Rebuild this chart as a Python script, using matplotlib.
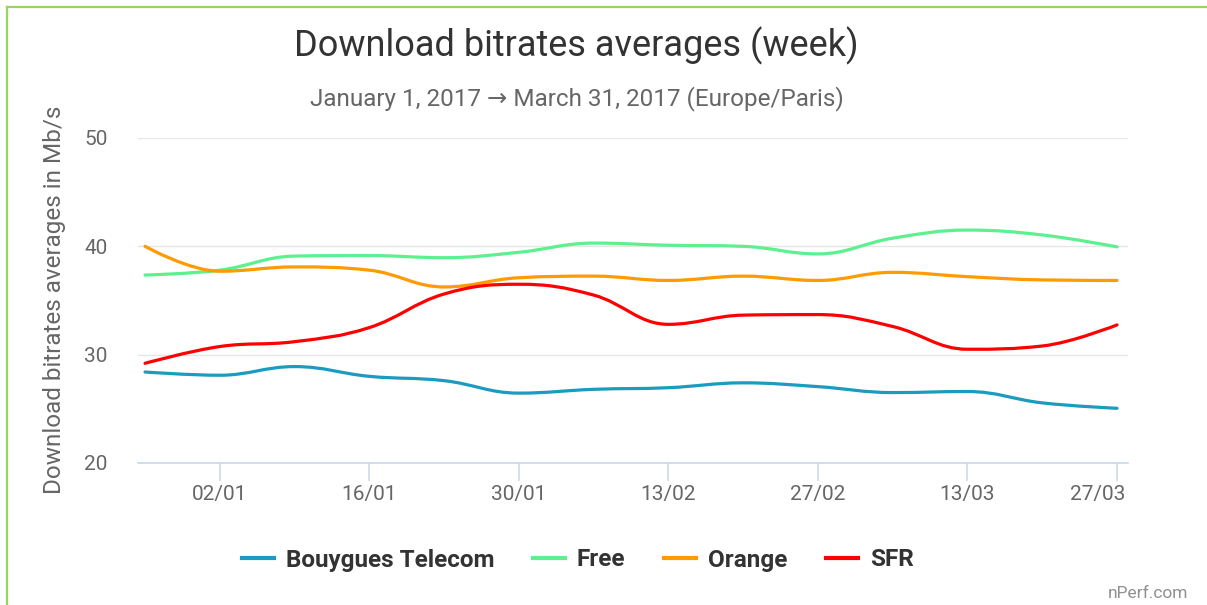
#!/usr/bin/env python3
"""Weekly download bitrate averages per operator, Q1 2017 (nPerf style chart)."""

import matplotlib
matplotlib.use("Agg")
import matplotlib.pyplot as plt
import matplotlib.transforms as mtransforms
import numpy as np
from matplotlib.lines import Line2D
from matplotlib.patches import PathPatch
from matplotlib.path import Path

plt.rcParams["font.family"] = ["Roboto", "DejaVu Sans"]

# week starting dates (Monday), 26/12/2016 -> 27/03/2017
WEEKS = ["26/12", "02/01", "09/01", "16/01", "23/01", "30/01", "06/02",
         "13/02", "20/02", "27/02", "06/03", "13/03", "20/03", "27/03"]

BOUYGUES = [28.4, 28.1, 28.9, 28.0, 27.6, 26.45, 26.8, 26.95, 27.4, 27.05, 26.5, 26.6, 25.55, 25.05]
FREE = [37.35, 37.8, 39.1, 39.15, 38.95, 39.45, 40.3, 40.1, 40.0, 39.3, 40.75, 41.5, 41.05, 39.95]
ORANGE = [40.0, 37.7, 38.1, 37.8, 36.25, 37.1, 37.25, 36.85, 37.25, 36.85, 37.6, 37.2, 36.9, 36.85]
SFR = [29.2, 30.75, 31.2, 32.5, 35.6, 36.5, 35.5, 32.8, 33.65, 33.7, 32.6, 30.5, 30.8, 32.75]

SERIES = [
    ("Bouygues Telecom", BOUYGUES, "#1a9bbf"),
    ("Free", FREE, "#5cf08f"),
    ("Orange", ORANGE, "#ff9a00"),
    ("SFR", SFR, "#ff0000"),
]

Y_TICKS = [20, 30, 40, 50]


def spline_path(xs, ys, smoothing=1.5):
    # same control point rule as a highcharts "spline" series
    denom = smoothing + 1
    n = len(xs)
    left = [(xs[i], ys[i]) for i in range(n)]
    right = [(xs[i], ys[i]) for i in range(n)]
    for i in range(1, n - 1):
        lx, ly = xs[i - 1], ys[i - 1]
        nx, ny = xs[i + 1], ys[i + 1]
        px, py = xs[i], ys[i]
        lcx = (smoothing * px + lx) / denom
        lcy = (smoothing * py + ly) / denom
        rcx = (smoothing * px + nx) / denom
        rcy = (smoothing * py + ny) / denom
        corr = ((rcy - lcy) * (rcx - px)) / (rcx - lcx) + py - rcy
        lcy += corr
        rcy += corr
        if lcy > ly and lcy > py:
            lcy = max(ly, py)
            rcy = 2 * py - lcy
        elif lcy < ly and lcy < py:
            lcy = min(ly, py)
            rcy = 2 * py - lcy
        if rcy > ny and rcy > py:
            rcy = max(ny, py)
            lcy = 2 * py - rcy
        elif rcy < ny and rcy < py:
            rcy = min(ny, py)
            lcy = 2 * py - rcy
        left[i] = (lcx, lcy)
        right[i] = (rcx, rcy)
    verts = [(xs[0], ys[0])]
    codes = [Path.MOVETO]
    for i in range(1, n):
        verts += [right[i - 1], left[i], (xs[i], ys[i])]
        codes += [Path.CURVE4] * 3
    return Path(verts, codes)


def main():
    W, H = 1207, 605
    fig = plt.figure(figsize=(W / 100, H / 100), dpi=100)
    ax = fig.add_axes([138 / W, 1 - 463 / H, 990 / W, 325 / H])

    x = np.arange(len(WEEKS))
    for name, vals, color in SERIES:
        patch = PathPatch(spline_path(x, vals), fill=False, edgecolor=color,
                          lw=2.3, capstyle="round", joinstyle="round", zorder=3)
        ax.add_patch(patch)

    ax.set_xlim(-0.094, 13.147)
    ax.set_ylim(20, 50)
    ax.set_yticks(Y_TICKS)
    ax.set_yticklabels([str(v) for v in Y_TICKS])
    ax.set_xticks(x[1::2])
    ax.set_xticklabels(WEEKS[1::2])

    for s in ["top", "right", "left"]:
        ax.spines[s].set_visible(False)
    ax.spines["bottom"].set_color("#ccd6eb")
    ax.spines["bottom"].set_linewidth(1.2)
    ax.spines["bottom"].set_zorder(2)
    ax.grid(axis="y", color="#e6e6e6", linewidth=1.0)
    ax.set_axisbelow(True)

    ax.tick_params(axis="y", length=0, pad=22, labelsize=15, labelcolor="#666666")
    ax.tick_params(axis="x", length=13, width=1.1, color="#ccd6eb", pad=3,
                   labelsize=15, labelcolor="#666666")
    last = ax.get_xticklabels()[-1]
    last.set_horizontalalignment("right")
    last.set_transform(last.get_transform()
                       + mtransforms.ScaledTranslation(8 / 100, 0, fig.dpi_scale_trans))

    fig.text(55 / W, 1 - 300 / H, "Download bitrates averages in Mb/s", rotation=90,
             ha="center", va="center", fontsize=17.5, color="#666666")

    fig.text(576 / W, 1 - 56 / H, "Download bitrates averages (week)",
             ha="center", va="baseline", fontsize=26, color="#333333")
    fig.text(577 / W, 1 - 105 / H,
             "January 1, 2017 \u2192 March 31, 2017 (Europe/Paris)",
             ha="center", va="baseline", fontsize=17.5, color="#666666")

    handles = [Line2D([], [], color=c, lw=3) for _, _, c in SERIES]
    fig.legend(handles, [n for n, _, _ in SERIES], loc="center",
               bbox_to_anchor=(578 / W, 1 - 560 / H), ncol=4, frameon=False,
               handlelength=1.3, handletextpad=0.5, columnspacing=1.6,
               prop={"weight": "bold", "size": 17.5}, labelcolor="#333333")

    fig.text(1188 / W, 1 - 593 / H, "nPerf.com", ha="right", va="center",
             fontsize=12.5, color="#909090")

    # green frame on the left and top edges
    green = "#98d660"
    fig.add_artist(Line2D([6.5 / W, 6.5 / W], [0, 1 - 7 / H], color=green, lw=1.6,
                          transform=fig.transFigure))
    fig.add_artist(Line2D([6.5 / W, 1], [1 - 7 / H, 1 - 7 / H], color=green, lw=1.6,
                          transform=fig.transFigure))

    fig.savefig("out.png", dpi=100)


if __name__ == "__main__":
    main()
